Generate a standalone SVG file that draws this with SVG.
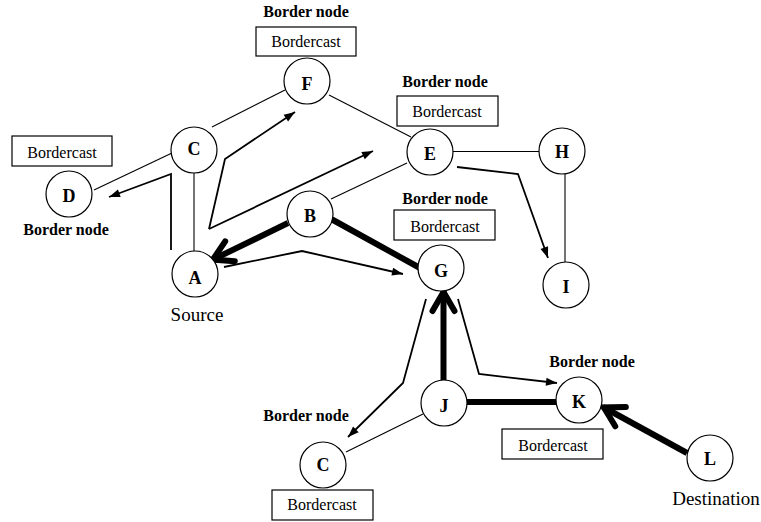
<svg xmlns="http://www.w3.org/2000/svg" width="761" height="522" viewBox="0 0 761 522">
  <style>
    .node { fill: #fff; stroke: #000; stroke-width: 1.2; }
    .box { fill: #fff; stroke: #000; stroke-width: 1.2; }
    .letter { font-family: "Liberation Serif", "Times New Roman", serif; font-weight: bold; font-size: 18px; text-anchor: middle; fill: #000; }
    .bn { font-family: "Liberation Serif", "Times New Roman", serif; font-weight: bold; font-size: 16px; text-anchor: middle; fill: #000; }
    .bc { font-family: "Liberation Serif", "Times New Roman", serif; font-size: 16px; text-anchor: middle; fill: #000; }
    .cap { font-family: "Liberation Serif", "Times New Roman", serif; font-size: 19px; text-anchor: middle; fill: #000; }
    .edge { fill: none; stroke: #000; stroke-width: 1.1; }
    .msg { fill: none; stroke: #000; stroke-width: 1.8; stroke-linejoin: miter; marker-end: url(#thin); }
    .msg-plain { fill: none; stroke: #000; stroke-width: 1.8; }
    .route { fill: none; stroke: #000; stroke-width: 6; stroke-linecap: round; }
    .route-arrow { fill: none; stroke: #000; stroke-width: 6; stroke-linecap: butt; marker-end: url(#thick); }
  </style>
  <defs>
    <marker id="thin" markerUnits="userSpaceOnUse" markerWidth="14" markerHeight="10" refX="0" refY="0" orient="auto" overflow="visible">
      <path d="M0,0 L-11,-4 L-11,4 Z" fill="#000"/>
    </marker>
    <marker id="thick" markerUnits="userSpaceOnUse" markerWidth="30" markerHeight="30" refX="0" refY="0" orient="auto" overflow="visible">
      <path d="M-20,-11 L-1,0 L-20,11" fill="none" stroke="#000" stroke-width="6" stroke-linecap="round" stroke-linejoin="miter"/>
    </marker>
  </defs>

  <rect width="761" height="522" fill="#fff"/>

  <g id="connectors">
    <!-- plain links -->
    <line class="edge" x1="212" y1="127" x2="285" y2="90"/>
    <line class="edge" x1="172" y1="153" x2="94" y2="190"/>
    <line class="edge" x1="194" y1="172" x2="194" y2="251"/>
    <line class="edge" x1="329" y1="95" x2="411" y2="137"/>
    <line class="edge" x1="331" y1="199" x2="407" y2="163"/>
    <line class="edge" x1="453" y1="151.5" x2="539" y2="151.5"/>
    <line class="edge" x1="565" y1="173" x2="565" y2="262"/>
    <line class="edge" x1="423" y1="414" x2="346" y2="452"/>

    <!-- bordercast messages -->
    <path class="msg" d="M209,229 L225,159 L295,112"/>
    <path class="msg" d="M209,229 L373,151"/>
    <path class="msg" d="M171,250 L171,174 L109,197"/>
    <path class="msg" d="M224,267 L302,251 L403,274"/>
    <path class="msg" d="M457,167 L518,174 L548,258"/>
    <path class="msg" d="M426,299 L403,383 L348,437"/>
    <path class="msg" d="M458,299 L479,374 L557,383"/>

    <!-- discovered route -->
    <line class="route" x1="333" y1="220" x2="420" y2="268"/>
    <line class="route" x1="467" y1="402" x2="556" y2="402"/>
    <line class="route-arrow" x1="288" y1="223" x2="212" y2="260"/>
    <line class="route-arrow" x1="443.5" y1="380" x2="443.5" y2="291"/>
    <line class="route-arrow" x1="687" y1="453" x2="603" y2="407"/>
  </g>

  <g id="node-F">
    <text class="bn" x="306" y="17">Border node</text>
    <rect class="box" x="256" y="27" width="100" height="29"/>
    <text class="bc" x="306" y="47">Bordercast</text>
    <circle class="node" cx="307" cy="81" r="23"/>
    <text class="letter" x="307" y="90">F</text>
  </g>

  <g id="node-C1">
    <circle class="node" cx="194" cy="150" r="23"/>
    <text class="letter" x="194" y="155">C</text>
  </g>

  <g id="node-D">
    <rect class="box" x="12" y="136" width="100" height="30"/>
    <text class="bc" x="62" y="158">Bordercast</text>
    <circle class="node" cx="69" cy="194" r="23"/>
    <text class="letter" x="69" y="202">D</text>
    <text class="bn" x="66" y="235">Border node</text>
  </g>

  <g id="node-B">
    <circle class="node" cx="310" cy="214" r="23"/>
    <text class="letter" x="310" y="222">B</text>
  </g>

  <g id="node-A">
    <circle class="node" cx="195" cy="274" r="23"/>
    <text class="letter" x="195" y="284">A</text>
    <text class="cap" x="197" y="321">Source</text>
  </g>

  <g id="node-E">
    <text class="bn" x="445" y="87">Border node</text>
    <rect class="box" x="397" y="96" width="101" height="30"/>
    <text class="bc" x="447" y="117">Bordercast</text>
    <circle class="node" cx="430" cy="152" r="23"/>
    <text class="letter" x="430" y="160">E</text>
  </g>

  <g id="node-H">
    <circle class="node" cx="562" cy="151" r="23"/>
    <text class="letter" x="562" y="158">H</text>
  </g>

  <g id="node-G">
    <text class="bn" x="445" y="204">Border node</text>
    <rect class="box" x="394" y="210" width="101" height="30"/>
    <text class="bc" x="445" y="232">Bordercast</text>
    <circle class="node" cx="441" cy="268" r="23"/>
    <text class="letter" x="441" y="277">G</text>
  </g>

  <g id="node-I">
    <circle class="node" cx="566" cy="285" r="23"/>
    <text class="letter" x="566" y="293">I</text>
  </g>

  <g id="node-J">
    <circle class="node" cx="444" cy="403" r="23"/>
    <text class="letter" x="444" y="412">J</text>
  </g>

  <g id="node-C2">
    <text class="bn" x="306" y="421">Border node</text>
    <circle class="node" cx="323" cy="465" r="23"/>
    <text class="letter" x="323" y="471">C</text>
    <rect class="box" x="272" y="490" width="101" height="30"/>
    <text class="bc" x="322" y="510">Bordercast</text>
  </g>

  <g id="node-K">
    <text class="bn" x="592" y="367">Border node</text>
    <circle class="node" cx="579" cy="400" r="23"/>
    <text class="letter" x="579" y="408">K</text>
    <rect class="box" x="502" y="429" width="101" height="30"/>
    <text class="bc" x="553" y="451">Bordercast</text>
  </g>

  <g id="node-L">
    <circle class="node" cx="710" cy="458" r="23"/>
    <text class="letter" x="710" y="465">L</text>
    <text class="cap" x="716" y="505">Destination</text>
  </g>
</svg>
